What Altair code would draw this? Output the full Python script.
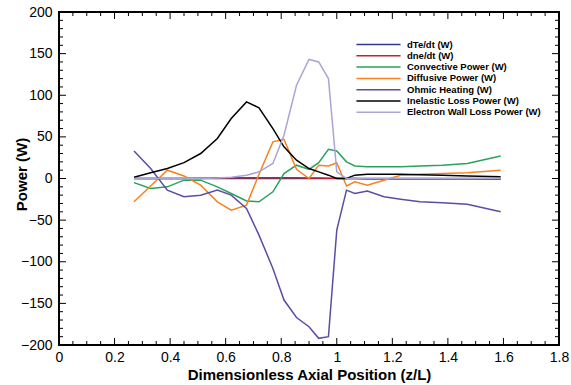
import altair as alt
import pandas as pd

# ---- data ----
z = [0.27, 0.33, 0.39, 0.45, 0.51, 0.57, 0.62, 0.675, 0.72, 0.77, 0.81, 0.855,
     0.90, 0.935, 0.97, 1.0, 1.035, 1.065, 1.11, 1.17, 1.23, 1.30, 1.38, 1.47, 1.59]

dte_dt = [0, 0, 0, 0, 0, 0, 0, 0, 0, 0, 0, 0,
          0, 0, 0, 0, 0, 0, -0.5, -0.5, -0.6, -0.6, -0.7, -0.7, -0.8]
dne_dt = [0, 0, 0, 0, 0.2, 0.5, 0.8, 1.0, 1.0, 1.0, 1.0, 0.8,
          0.6, 0.5, 0.4, 0.2, 0, 0, 0, 0, 0, 0, 0, 0, 0]
convective = [-5, -12, -10, -2, -2, -10, -18, -27, -28, -16, 6, 16,
              11, 19, 35, 33, 20, 15, 14, 14, 14, 15, 16, 18, 27]
diffusive = [-28, -9, 10, 3, -8, -28, -38, -32, 5, 44, 47, 11,
             0, 16, 15, 19, -9, -4, -8, -2, 4, 5, 6, 7, 10]
ohmic = [33, 12, -14, -22, -20, -14, -20, -36, -68, -108, -146, -167,
         -178, -192, -190, -62, -14, -18, -15, -22, -25, -28, -29, -31, -40]
inelastic = [1.5, 7, 12, 19, 30, 48, 72, 92, 85, 60, 38, 22,
             12, 8, 4, 0, 0, 4, 5, 5, 5, 4.5, 4, 3, 2]
wall_loss = [0, 0, 0, 0, 0, 0.5, 1.5, 4, 8, 18, 52, 112,
             143, 140, 120, 8, 0, 0, 0, 0, 0, 0, 0, 0, 0]

series_names = ["dTe/dt (W)", "dne/dt (W)", "Convective Power (W)", "Diffusive Power (W)",
                "Ohmic Heating (W)", "Inelastic Loss Power (W)", "Electron Wall Loss Power (W)"]
series_values = [dte_dt, dne_dt, convective, diffusive, ohmic, inelastic, wall_loss]
series_colors = ["#2e3a8f", "#c8202f", "#27a35a", "#f7821e", "#5f4ba3", "#000000", "#aaa5d6"]

x_major = [0, 0.2, 0.4, 0.6, 0.8, 1.0, 1.2, 1.4, 1.6, 1.8]
x_minor = [round(0.05 * i, 2) for i in range(37) if i % 4 != 0]
y_major = [-200, -150, -100, -50, 0, 50, 100, 150, 200]
y_minor = [v for v in range(-200, 201, 10) if v % 50 != 0]

W, H = 500, 333
FONT = "Liberation Sans"

rows = []
for name, vals in zip(series_names, series_values):
    for xv, yv in zip(z, vals):
        rows.append({"x": xv, "value": yv, "series": name})
df = pd.DataFrame(rows)

xscale = alt.Scale(domain=[0, 1.8], nice=False, zero=False)
yscale = alt.Scale(domain=[-200, 200], nice=False, zero=False)

xaxis = alt.Axis(values=x_major, format=".1~f", tickSize=0, domain=False, grid=False,
                 labelFlush=False, labelOverlap=False,
                 labelPadding=5, labelFont=FONT, labelFontSize=14, labelColor="black",
                 title="Dimensionless Axial Position (z/L)", titleFont=FONT,
                 titleFontSize=15, titleFontWeight="bold", titleColor="black",
                 titlePadding=3)
yaxis = alt.Axis(values=y_major, format="d", tickSize=0, domain=False, grid=False,
                 labelFlush=False, labelOverlap=False,
                 labelPadding=7, labelFont=FONT, labelFontSize=14, labelColor="black",
                 title="Power (W)", titleFont=FONT, titleFontSize=15,
                 titleFontWeight="bold", titleColor="black",
                 titleX=-38, titleY=162, titleAngle=270, titleAlign="center",
                 titleBaseline="middle")

main = alt.Chart(df).mark_line(strokeWidth=1.5).encode(
    x=alt.X("x:Q", scale=xscale, axis=xaxis, title="Dimensionless Axial Position (z/L)"),
    y=alt.Y("value:Q", scale=yscale, axis=yaxis, title="Power (W)"),
    color=alt.Color("series:N", sort=series_names,
                    scale=alt.Scale(domain=series_names, range=series_colors),
                    legend=alt.Legend(title=None, orient="none", legendX=314, legendY=27,
                                      symbolType="M-4.9,0H4.9", symbolSize=81,
                                      symbolStrokeWidth=1.5, labelFont=FONT, labelFontSize=9.5,
                                      labelFontWeight="bold", labelColor="black",
                                      labelOffset=23, rowPadding=1.3, padding=0)),
    detail="series:N",
)


def xticks(vals, length, bottom):
    return alt.Chart(pd.DataFrame({"x": vals})).mark_rule(color="black", strokeWidth=1).encode(
        x=alt.X("x:Q", scale=xscale, axis=xaxis, title="Dimensionless Axial Position (z/L)"),
        y=alt.value(H if bottom else 0),
        y2=alt.value(H - length if bottom else length),
    )


def yticks(vals, length, left):
    return alt.Chart(pd.DataFrame({"value": vals})).mark_rule(color="black", strokeWidth=1).encode(
        y=alt.Y("value:Q", scale=yscale, axis=yaxis, title="Power (W)"),
        x=alt.value(0 if left else W),
        x2=alt.value(length if left else W - length),
    )


tick_layers = [
    xticks(x_major, 7, True), xticks(x_minor, 4, True),
    xticks(x_major, 7, False), xticks(x_minor, 4, False),
    yticks(y_major, 7, True), yticks(y_minor, 4, True),
    yticks(y_major, 7, False), yticks(y_minor, 4, False),
]

chart = alt.layer(main, *tick_layers).properties(
    width=W, height=H,
    autosize=alt.AutoSizeParams(type="none"),
    padding={"left": 59, "top": 12, "right": 12, "bottom": 40},
    background="white",
).configure_view(stroke="black", strokeWidth=2)

chart.save("out.html", embed_options={"renderer": "svg", "actions": False})
